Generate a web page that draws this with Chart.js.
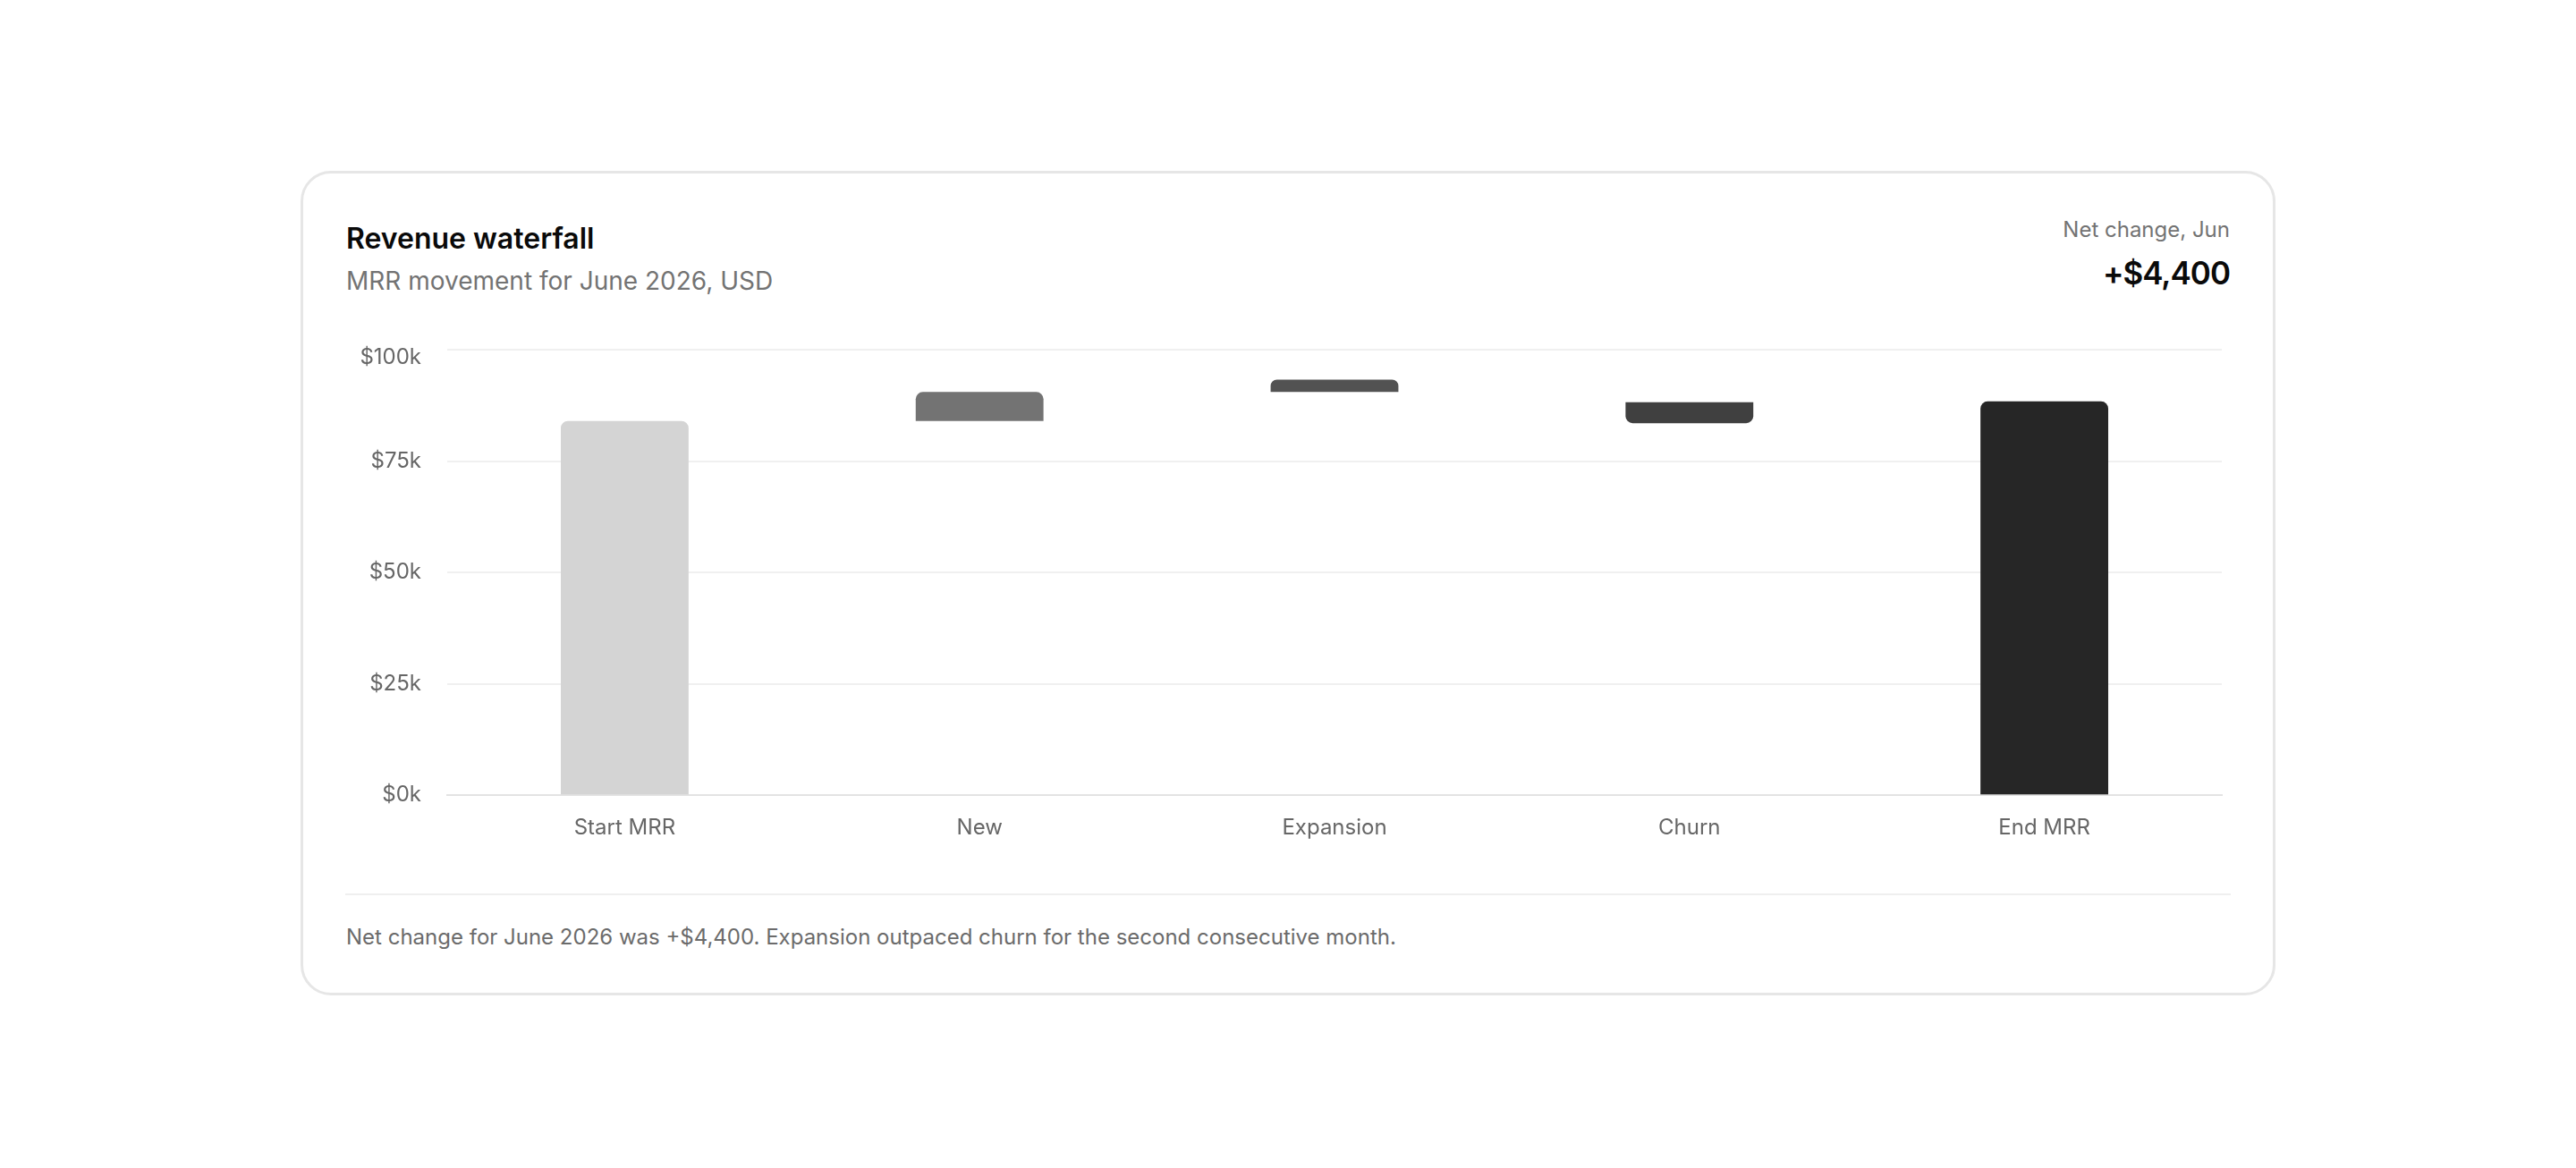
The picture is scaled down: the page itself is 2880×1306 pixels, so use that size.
<!DOCTYPE html>
<html>
<head>
<meta charset="utf-8">
<script src="https://cdn.jsdelivr.net/npm/chart.js@4.4.1/dist/chart.umd.min.js"></script>
<style>
  html, body { margin: 0; padding: 0; background: #ffffff; }
  body { width: 2880px; height: 1306px; position: relative; overflow: hidden; font-family: Inter, "Noto Sans", sans-serif; }
  .card { position: absolute; left: 336px; top: 191px; width: 2208px; height: 922px; box-sizing: border-box;
          border: 3px solid #e6e6e6; border-radius: 34px; background: #fff; }
  .t { position: absolute; white-space: nowrap; line-height: 1.2; }
  #title { left: 48px; top: 54px; font-size: 32px; font-weight: 600; color: #0a0a0a; }
  #subtitle { left: 48px; top: 103.5px; font-size: 28px; font-weight: 400; color: #737373; }
  #kpiLabel { right: 48px; top: 48.5px; font-size: 24px; color: #737373; text-align: right; }
  #kpiValue { right: 48px; top: 90px; font-size: 35px; font-weight: 600; letter-spacing: -1px; color: #0a0a0a; text-align: right; }
  #chartBox { position: absolute; left: 47px; top: 150px; width: 2108px; height: 621px; }
  #chartBox canvas { display: block; }
  #sep { position: absolute; left: 47px; width: 2108px; top: 805px; height: 2px; background: #efefef; }
  #footer { left: 48px; top: 839.5px; font-size: 24px; color: #6b6b6b; }
</style>
</head>
<body>
<div class="card">
  <div class="t" id="title">Revenue waterfall</div>
  <div class="t" id="subtitle">MRR movement for June 2026, USD</div>
  <div class="t" id="kpiLabel">Net change, Jun</div>
  <div class="t" id="kpiValue">+$4,400</div>
  <div id="chartBox"><canvas id="c"></canvas></div>
  <div id="sep"></div>
  <div class="t" id="footer">Net change for June 2026 was +$4,400. Expansion outpaced churn for the second consecutive month.</div>
</div>
<script>
// ---- data ----
const categories = ['Start MRR', 'New', 'Expansion', 'Churn', 'End MRR'];
const barFrom = [0, 84000, 90500, 88200, 0];          // where each bar begins
const barTo   = [84000, 90500, 93300, 83500, 88400];  // where each bar ends
const yTicks  = [0, 25000, 50000, 75000, 100000];

// ---- styles ----
const barColors = ['#d4d4d4', '#737373', '#525252', '#404040', '#262626'];
const FONT = 'Inter, "Noto Sans", sans-serif';

const floatingData = categories.map((c, i) => [barFrom[i], barTo[i]]);

new Chart(document.getElementById('c'), {
  type: 'bar',
  data: {
    labels: categories,
    datasets: [{
      data: floatingData,
      backgroundColor: barColors,
      borderWidth: 0,
      borderRadius: 8,
      // decreasing bars hang from their start, so the flat edge is on top
      borderSkipped: (ctx) => (barFrom[ctx.dataIndex] > barTo[ctx.dataIndex] ? 'end' : 'start'),
      categoryPercentage: 0.6,
      barPercentage: 0.6
    }]
  },
  options: {
    responsive: true,
    maintainAspectRatio: false,
    animation: false,
    layout: { padding: { top: 30, right: 10, bottom: 3, left: 0 } },
    plugins: { legend: { display: false }, tooltip: { enabled: false } },
    scales: {
      x: {
        grid: { display: false, drawTicks: false },
        border: { display: true, color: '#e3e3e3', width: 2 },
        ticks: { color: '#666666', padding: 22, font: { family: FONT, size: 24 } }
      },
      y: {
        min: yTicks[0],
        max: yTicks[yTicks.length - 1],
        afterBuildTicks: (scale) => { scale.ticks = yTicks.map(v => ({ value: v })); },
        afterFit: (scale) => { scale.width = 114; },
        grid: { color: '#f0f0f0', lineWidth: 2, drawTicks: false },
        border: { display: false },
        ticks: {
          color: '#666666',
          padding: 29,
          font: { family: FONT, size: 24, lineHeight: 0.75 },
          callback: (v) => {
            const s = '$' + (v / 1000) + 'k';
            return v === yTicks[yTicks.length - 1] ? ['', s] : s;
          }
        }
      }
    }
  }
});
</script>
</body>
</html>
